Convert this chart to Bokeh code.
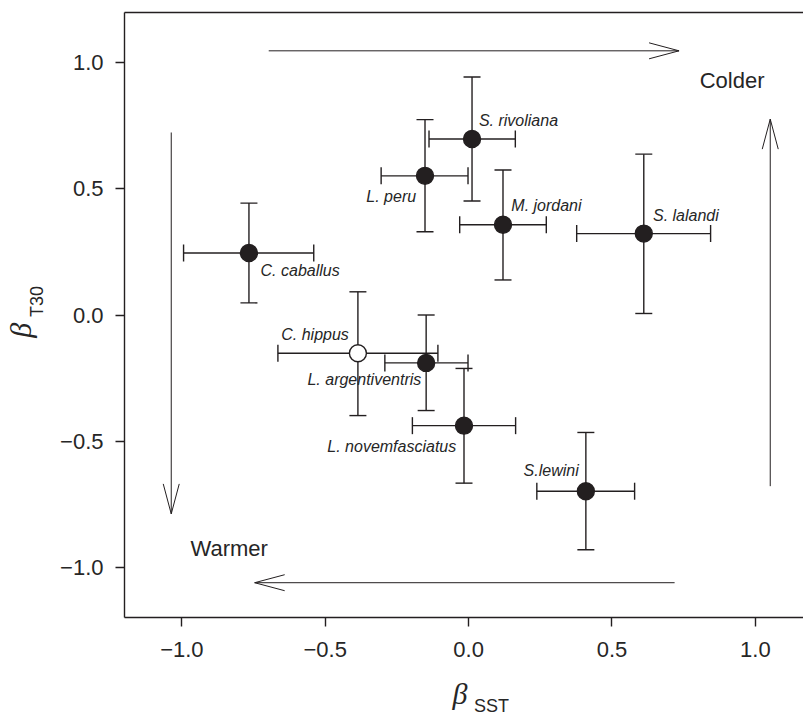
import math
from bokeh.plotting import figure
from bokeh.models import (ColumnDataSource, Whisker, TeeHead, Label, FixedTicker,
                          LinearAxis, Range1d)
from bokeh.embed import file_html
from bokeh.resources import INLINE

# ---------------- data ----------------
species = ["S. rivoliana", "L. peru", "M. jordani", "S. lalandi", "C. caballus",
           "C. hippus", "L. argentiventris", "L. novemfasciatus", "S.lewini"]
beta_sst = [0.012, -0.152, 0.120, 0.611, -0.766, -0.386, -0.148, -0.016, 0.409]
sst_lower = [-0.138, -0.305, -0.031, 0.377, -0.994, -0.665, -0.292, -0.196, 0.238]
sst_upper = [0.163, -0.002, 0.271, 0.844, -0.540, -0.107, -0.002, 0.164, 0.579]
beta_t30 = [0.698, 0.552, 0.358, 0.323, 0.246, -0.152, -0.190, -0.439, -0.699]
t30_lower = [0.452, 0.330, 0.139, 0.006, 0.048, -0.399, -0.379, -0.667, -0.931]
t30_upper = [0.944, 0.775, 0.575, 0.638, 0.444, 0.092, 0.000, -0.212, -0.466]
open_species = ["C. hippus"]

tick_values = [-1.0, -0.5, 0.0, 0.5, 1.0]
tick_labels = ["\u22121.0", "\u22120.5", "0.0", "0.5", "1.0"]

# ---------------- layout ----------------
X0, X1 = -1.2, 1.168
Y0, Y1 = -1.2, 1.2
FW, FH = 679, 605
INK = "#231f20"
TXT = "#262626"

p = figure(width=803, height=718, frame_width=FW, frame_height=FH,
           x_range=Range1d(X0, X1), y_range=Range1d(Y0, Y1),
           output_backend="svg", toolbar_location=None,
           min_border_left=124, min_border_right=0, min_border_top=12,
           min_border_bottom=101)
p.outline_line_color = None
p.grid.visible = False
p.background_fill_color = "white"
p.border_fill_color = "white"

for ax in (p.xaxis[0], p.yaxis[0]):
    ax.ticker = FixedTicker(ticks=tick_values)
    ax.major_label_overrides = dict(zip(tick_values, tick_labels))
    ax.minor_tick_line_color = None
    ax.major_tick_in = 0
    ax.major_tick_out = 9
    ax.axis_line_width = 1.4
    ax.axis_line_color = INK
    ax.major_tick_line_width = 1.4
    ax.major_tick_line_color = INK
    ax.major_label_text_font = "Liberation Sans"
    ax.major_label_text_font_size = "22px"
    ax.major_label_text_color = TXT
p.xaxis[0].major_label_standoff = 15
p.yaxis[0].major_label_standoff = 12
p.yaxis[0].major_label_orientation = "horizontal"

top_axis = LinearAxis(ticker=FixedTicker(ticks=[]), major_tick_out=0, major_tick_in=0,
                      minor_tick_out=0, minor_tick_in=0, major_label_standoff=0,
                      axis_line_width=1.4, axis_line_color=INK)
p.add_layout(top_axis, "above")


def title_axis(pos, text, size, standoff, italic, serif, orient):
    ax = LinearAxis(ticker=FixedTicker(ticks=[pos]),
                    major_label_overrides={pos: text},
                    axis_line_color=None, major_tick_line_color=None,
                    minor_tick_line_color=None, major_tick_out=0, major_tick_in=0,
                    minor_tick_out=0, minor_tick_in=0,
                    major_label_standoff=standoff,
                    major_label_text_font="Liberation Serif" if serif else "Liberation Sans",
                    major_label_text_font_style="italic" if italic else "normal",
                    major_label_text_font_size=size,
                    major_label_text_color=TXT,
                    major_label_orientation=orient)
    return ax


# x title: beta with subscript SST
p.add_layout(title_axis(-0.03, "\u03b2", "30px", 17, True, True, "horizontal"), "below")
p.add_layout(title_axis(0.08, "SST", "18px", -17, False, False, "horizontal"), "below")
# y title: beta with subscript T30
p.add_layout(title_axis(0.054, "T30", "18px", 10, False, False, "parallel"), "left")
p.add_layout(title_axis(-0.061, "\u03b2", "30px", -13, True, True, "parallel"), "left")

src = ColumnDataSource(dict(species=species, x=beta_sst, y=beta_t30,
                            xl=sst_lower, xu=sst_upper, yl=t30_lower, yu=t30_upper,
                            fill=["white" if s in open_species else INK for s in species]))

# error bars
def tee():
    return TeeHead(size=17, line_color=INK, line_width=1.4)

p.add_layout(Whisker(source=src, base="y", lower="xl", upper="xu", dimension="width",
                     line_color=INK, line_width=1.4, lower_head=tee(), upper_head=tee()))
p.add_layout(Whisker(source=src, base="x", lower="yl", upper="yu", dimension="height",
                     line_color=INK, line_width=1.4, lower_head=tee(), upper_head=tee()))

p.scatter("x", "y", source=src, size=17, fill_color="fill", line_color=INK,
          line_width=1.4)

# species labels (anchor, alignment)
label_place = {
    "S. rivoliana": (0.036, 0.773, "left"),
    "L. peru": (-0.183, 0.470, "right"),
    "M. jordani": (0.149, 0.436, "left"),
    "S. lalandi": (0.643, 0.396, "left"),
    "C. caballus": (-0.7255, 0.176, "left"),
    "C. hippus": (-0.4175, -0.079, "right"),
    "L. argentiventris": (-0.165, -0.256, "right"),
    "L. novemfasciatus": (-0.043, -0.521, "right"),
    "S.lewini": (0.384, -0.617, "right"),
}
for s in species:
    lx, ly, al = label_place[s]
    p.add_layout(Label(x=lx, y=ly, text=s, text_align=al, text_baseline="middle",
                       text_font="Liberation Sans", text_font_style="italic",
                       text_font_size="16px", text_color=TXT))

# direction arrows
sx = FW / (X1 - X0)
sy = FH / (Y1 - Y0)
arrows = [((-0.697, 1.048), (0.734, 1.048)),
          ((1.052, -0.679), (1.052, 0.777)),
          ((0.7185, -1.062), (-0.746, -1.062)),
          ((-1.037, 0.724), (-1.037, -0.789))]
xs, ys = [], []
for (xa, ya), (xb, yb) in arrows:
    xs.append([xa, xb]); ys.append([ya, yb])
    dx, dy = (xb - xa) * sx, (yb - ya) * sy
    n = math.hypot(dx, dy)
    ux, uy = dx / n, dy / n
    L, W = 30, 8
    for sgn in (1, -1):
        hx = xb + (-L * ux + sgn * W * (-uy)) / sx
        hy = yb + (-L * uy + sgn * W * ux) / sy
        xs.append([xb, hx]); ys.append([yb, hy])
p.multi_line(xs, ys, line_color=INK, line_width=1.0)

p.add_layout(Label(x=0.919, y=0.930, text="Colder", text_align="center",
                   text_baseline="middle", text_font="Liberation Sans",
                   text_font_size="22px", text_color=TXT))
p.add_layout(Label(x=-0.835, y=-0.927, text="Warmer", text_align="center",
                   text_baseline="middle", text_font="Liberation Sans",
                   text_font_size="22px", text_color=TXT))

open("out.html", "w").write(file_html(p, INLINE))
